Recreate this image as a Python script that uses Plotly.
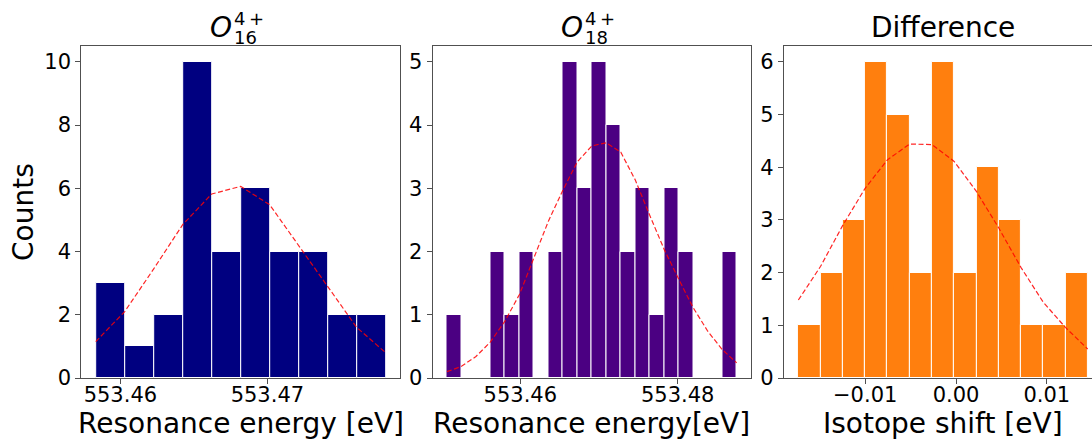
import numpy as np
import plotly.graph_objects as go

W, H = 1092, 439

# ---------------- data ----------------
o16_counts = [3, 1, 2, 10, 4, 6, 4, 4, 2, 2]
o16_edge_min, o16_edge_max = 553.458322, 553.478050
o16_fit = [1.15, 2.1, 3.45, 4.85, 5.82, 6.06, 5.48, 4.18, 2.88, 1.6, 0.8]

o18_counts = [1, 0, 0, 2, 1, 2, 0, 2, 5, 3, 5, 4, 2, 3, 1, 3, 2, 0, 0, 2]
o18_edge_min, o18_edge_max = 553.450678, 553.487500
o18_fit = [0.1, 0.185, 0.34, 0.57, 0.9, 1.32, 1.9, 2.48, 2.97, 3.42, 3.67,
           3.72, 3.57, 3.13, 2.57, 2.03, 1.56, 1.11, 0.74, 0.45, 0.24]

diff_counts = [1, 2, 3, 6, 5, 2, 6, 2, 4, 3, 1, 1, 2]
diff_edge_min, diff_edge_max = -0.017359, 0.014496
diff_fit = [1.48, 2.12, 2.9, 3.6, 4.14, 4.44, 4.43, 4.11, 3.54, 2.85, 2.1,
            1.44, 0.96, 0.55]

o16_xticks = [553.46, 553.47]
o16_xticklabels = ["553.46", "553.47"]
o18_xticks = [553.46, 553.48]
o18_xticklabels = ["553.46", "553.48"]
diff_xticks = [-0.01, 0.0, 0.01]
diff_xticklabels = ["\u22120.01", "0.00", "0.01"]

o16_yticks = [0, 2, 4, 6, 8, 10]
o18_yticks = [0, 1, 2, 3, 4, 5]
diff_yticks = [0, 1, 2, 3, 4, 5, 6]

x_titles = ["Resonance energy [eV]", "Resonance energy[eV]", "Isotope shift [eV]"]
y_title = "Counts"
panel_titles = [("O", "4\u2009+", "16"), ("O", "4\u2009+", "18"), "Difference"]

colors = ["#000080", "#4b0082", "#ff7f0e"]

# ---------------- layout geometry (pixels) ----------------
FONT = "DejaVu Sans"
TICK_SIZE = 21
LABEL_SIZE = 28
plot_top, plot_bottom = 46, 378
ydom = [1 - plot_bottom / H, 1 - plot_top / H]
xdoms_px = [(81.2, 400.2), (432.5, 751.2), (783.9, 1092.0)]
diff_visible_right = 0.014973  # axis cut at image edge


def py(p):
    return 1 - p / H


panels = [
    (o16_counts, o16_edge_min, o16_edge_max, o16_fit, o16_xticks, o16_xticklabels, o16_yticks),
    (o18_counts, o18_edge_min, o18_edge_max, o18_fit, o18_xticks, o18_xticklabels, o18_yticks),
    (diff_counts, diff_edge_min, diff_edge_max, diff_fit, diff_xticks, diff_xticklabels, diff_yticks),
]

fig = go.Figure()
layout = dict(
    width=W, height=H,
    margin=dict(l=0, r=0, t=0, b=0, autoexpand=False),
    paper_bgcolor="white", plot_bgcolor="white",
    showlegend=False, bargap=0,
    font=dict(family=FONT, color="black"),
)
annotations = []

for i, (counts, emin, emax, fit, xt, xtl, yt) in enumerate(panels):
    n = len(counts)
    edges = np.linspace(emin, emax, n + 1)
    centers = (edges[:-1] + edges[1:]) / 2
    width = edges[1] - edges[0]
    sfx = "" if i == 0 else str(i + 1)
    xa, ya = "x" + sfx, "y" + sfx
    fig.add_trace(go.Bar(
        x=centers, y=counts, width=[width] * n,
        marker=dict(color=colors[i], line=dict(color="white", width=1)),
        xaxis=xa, yaxis=ya, hoverinfo="skip",
    ))
    fig.add_trace(go.Scatter(
        x=edges, y=fit, mode="lines",
        line=dict(color="rgba(255,0,0,0.85)", width=1.2, dash="5px,2.5px"),
        xaxis=xa, yaxis=ya, hoverinfo="skip",
    ))
    span = emax - emin
    xr = [emin - 0.05 * span, emax + 0.05 * span]
    if i == 2:
        xr[1] = diff_visible_right
    ymax = max(counts) * 1.05
    d0, d1 = xdoms_px[i]
    layout["xaxis" + sfx] = dict(
        domain=[d0 / W, d1 / W], range=xr, anchor=ya, automargin=False,
        showgrid=False, zeroline=False,
        showline=True, linecolor="#505050", linewidth=1, mirror=True,
        ticks="outside", ticklen=5, tickwidth=1, tickcolor="#505050",
        ticklabelstandoff=-7,
        tickvals=xt, ticktext=xtl,
        tickfont=dict(family=FONT, size=TICK_SIZE, color="black"),
    )
    layout["yaxis" + sfx] = dict(
        domain=ydom, range=[0, ymax], anchor=xa, automargin=False,
        showgrid=False, zeroline=False,
        showline=True, linecolor="#505050", linewidth=1, mirror=(i != 2),
        ticks="outside", ticklen=5, tickwidth=1, tickcolor="#505050",
        tickvals=yt, ticktext=[str(v) for v in yt],
        tickfont=dict(family=FONT, size=TICK_SIZE, color="black"),
    )
    full_right = d1 if i != 2 else 1102.1
    cx = (d0 + full_right) / 2
    annotations.append(dict(
        x=cx / W, y=py(423), xref="paper", yref="paper",
        text=x_titles[i], showarrow=False, xanchor="center", yanchor="middle",
        font=dict(family=FONT, size=LABEL_SIZE, color="black"),
    ))
    t = panel_titles[i]
    if isinstance(t, tuple):
        base, sup, sub = t
        ox = cx - 20
        annotations.append(dict(
            x=ox / W, y=py(27), xref="paper", yref="paper",
            text="<i>" + base + "</i>", showarrow=False,
            xanchor="center", yanchor="middle",
            font=dict(family=FONT, size=LABEL_SIZE, color="black"),
        ))
        annotations.append(dict(
            x=(ox + 11) / W, y=py(19), xref="paper", yref="paper",
            text=sup, showarrow=False, xanchor="left", yanchor="middle",
            font=dict(family=FONT, size=18, color="black"),
        ))
        annotations.append(dict(
            x=(ox + 11) / W, y=py(37), xref="paper", yref="paper",
            text=sub, showarrow=False, xanchor="left", yanchor="middle",
            font=dict(family=FONT, size=18, color="black"),
        ))
    else:
        annotations.append(dict(
            x=cx / W, y=py(27), xref="paper", yref="paper",
            text=t, showarrow=False, xanchor="center", yanchor="middle",
            font=dict(family=FONT, size=LABEL_SIZE, color="black"),
        ))

annotations.append(dict(
    x=24 / W, y=py(212), xref="paper", yref="paper",
    text=y_title, showarrow=False, textangle=-90,
    xanchor="center", yanchor="middle",
    font=dict(family=FONT, size=LABEL_SIZE, color="black"),
))
layout["annotations"] = annotations
fig.update_layout(**layout)
fig.write_html("out.html")
